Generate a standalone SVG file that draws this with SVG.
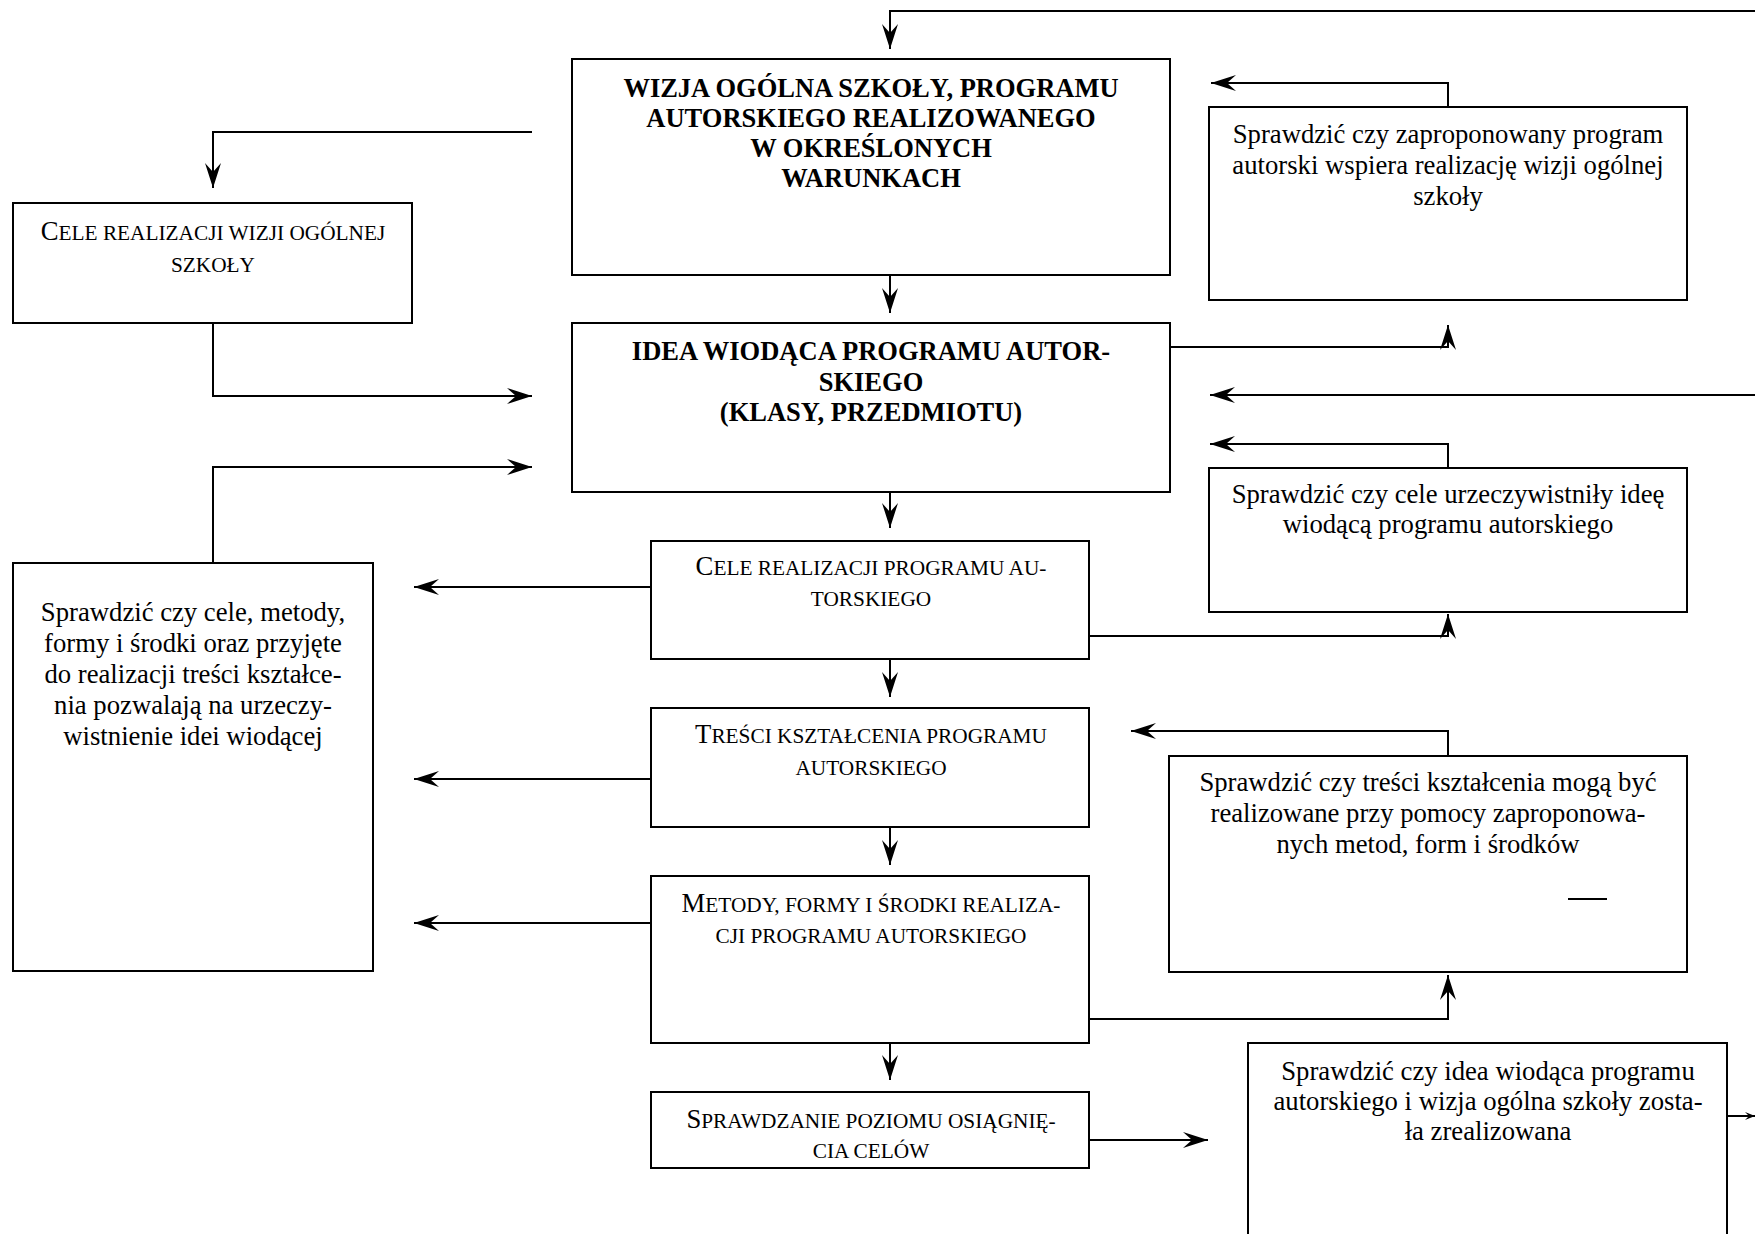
<svg xmlns="http://www.w3.org/2000/svg" width="1755" height="1234" viewBox="0 0 1755 1234">
<style>
.n rect{fill:#fff;stroke:#000;stroke-width:2}
.c path,.c line{fill:none;stroke:#000;stroke-width:2}
text{font-family:"Liberation Serif","Times New Roman",serif;fill:#000;text-anchor:middle}
.b{font-weight:bold;font-size:26.5px}
.r{font-size:26.7px}
.k{font-size:26.7px}
.s{font-size:21.3px}
</style>
<defs>
<marker id="a" markerUnits="userSpaceOnUse" markerWidth="26" markerHeight="18" viewBox="0 0 26 18" refX="25" refY="9" orient="auto">
<path d="M25,9 L0,1 L9,9 L0,17 Z" fill="#000"/>
</marker>
<marker id="as" markerUnits="userSpaceOnUse" markerWidth="12" markerHeight="10" viewBox="0 0 12 10" refX="11" refY="5" orient="auto">
<path d="M11,5 L1,1 L5,5 L1,9 Z" fill="#000"/>
</marker>
</defs>
<rect width="1755" height="1234" fill="#fff"/>

<g class="c" id="connectors">
<path d="M1755,11 H890 V49" marker-end="url(#a)"/>
<path d="M532,132 H213 V188" marker-end="url(#a)"/>
<path d="M213,323 V396 H532" marker-end="url(#a)"/>
<path d="M213,563 V467 H532" marker-end="url(#a)"/>
<path d="M890,275 V313" marker-end="url(#a)"/>
<path d="M1170,347 H1448 V325" marker-end="url(#a)"/>
<path d="M1448,107 V83 H1211" marker-end="url(#a)"/>
<path d="M1755,395 H1210" marker-end="url(#a)"/>
<path d="M1448,468 V444 H1210" marker-end="url(#a)"/>
<path d="M890,492 V528" marker-end="url(#a)"/>
<path d="M1089,636 H1448 V614" marker-end="url(#a)"/>
<path d="M651,587 H414" marker-end="url(#a)"/>
<path d="M890,659 V697" marker-end="url(#a)"/>
<path d="M651,779 H414" marker-end="url(#a)"/>
<path d="M1448,756 V731 H1131" marker-end="url(#a)"/>
<path d="M890,827 V865" marker-end="url(#a)"/>
<path d="M651,923 H414" marker-end="url(#a)"/>
<path d="M1089,1019 H1448 V975" marker-end="url(#a)"/>
<path d="M890,1043 V1080" marker-end="url(#a)"/>
<path d="M1089,1140 H1208" marker-end="url(#a)"/>
<path d="M1727,1116 H1755" marker-end="url(#as)"/>
</g>

<g class="n" id="wizja">
<rect x="572" y="59" width="598" height="216"/>
<text class="b" x="871" y="97">WIZJA OGÓLNA SZKOŁY, PROGRAMU</text>
<text class="b" x="871" y="127">AUTORSKIEGO REALIZOWANEGO</text>
<text class="b" x="871" y="157">W OKREŚLONYCH</text>
<text class="b" x="871" y="187">WARUNKACH</text>
</g>

<g class="n" id="idea">
<rect x="572" y="323" width="598" height="169"/>
<text class="b" x="871" y="360">IDEA WIODĄCA PROGRAMU AUTOR-</text>
<text class="b" x="871" y="391">SKIEGO</text>
<text class="b" x="871" y="421">(KLASY, PRZEDMIOTU)</text>
</g>

<g class="n" id="cele-wizji">
<rect x="13" y="203" width="399" height="120"/>
<text class="k" x="213" y="240">C<tspan class="s">ELE REALIZACJI WIZJI OGÓLNEJ</tspan></text>
<text class="s" x="213" y="272">SZKOŁY</text>
</g>

<g class="n" id="check-wizja">
<rect x="1209" y="107" width="478" height="193"/>
<text class="r" x="1448" y="143">Sprawdzić czy zaproponowany program</text>
<text class="r" x="1448" y="174">autorski wspiera realizację wizji ogólnej</text>
<text class="r" x="1448" y="205">szkoły</text>
</g>

<g class="n" id="check-idea">
<rect x="1209" y="468" width="478" height="144"/>
<text class="r" x="1448" y="503">Sprawdzić czy cele urzeczywistniły ideę</text>
<text class="r" x="1448" y="533">wiodącą programu autorskiego</text>
</g>

<g class="n" id="check-left">
<rect x="13" y="563" width="360" height="408"/>
<text class="r" x="193" y="621">Sprawdzić czy cele, metody,</text>
<text class="r" x="193" y="652">formy i środki oraz przyjęte</text>
<text class="r" x="193" y="683">do realizacji treści kształce-</text>
<text class="r" x="193" y="714">nia pozwalają na urzeczy-</text>
<text class="r" x="193" y="745">wistnienie idei wiodącej</text>
</g>

<g class="n" id="cele-programu">
<rect x="651" y="541" width="438" height="118"/>
<text class="k" x="871" y="575">C<tspan class="s">ELE REALIZACJI PROGRAMU AU-</tspan></text>
<text class="s" x="871" y="606">TORSKIEGO</text>
</g>

<g class="n" id="tresci">
<rect x="651" y="708" width="438" height="119"/>
<text class="k" x="871" y="743">T<tspan class="s">REŚCI KSZTAŁCENIA PROGRAMU</tspan></text>
<text class="s" x="871" y="775">AUTORSKIEGO</text>
</g>

<g class="n" id="metody">
<rect x="651" y="876" width="438" height="167"/>
<text class="k" x="871" y="912">M<tspan class="s">ETODY, FORMY I ŚRODKI REALIZA-</tspan></text>
<text class="s" x="871" y="943">CJI PROGRAMU AUTORSKIEGO</text>
</g>

<g class="n" id="sprawdzanie">
<rect x="651" y="1092" width="438" height="76"/>
<text class="k" x="871" y="1128">S<tspan class="s">PRAWDZANIE POZIOMU OSIĄGNIĘ-</tspan></text>
<text class="s" x="871" y="1158">CIA CELÓW</text>
</g>

<g class="n" id="check-tresci">
<rect x="1169" y="756" width="518" height="216"/>
<text class="r" x="1428" y="791">Sprawdzić czy treści kształcenia mogą być</text>
<text class="r" x="1428" y="822">realizowane przy pomocy zaproponowa-</text>
<text class="r" x="1428" y="853">nych metod, form i środków</text>
<line x1="1568" y1="899" x2="1607" y2="899" stroke="#000" stroke-width="2"/>
</g>

<g class="n" id="check-final">
<rect x="1248" y="1043" width="479" height="200"/>
<text class="r" x="1488" y="1080">Sprawdzić czy idea wiodąca programu</text>
<text class="r" x="1488" y="1110">autorskiego i wizja ogólna szkoły zosta-</text>
<text class="r" x="1488" y="1140">ła zrealizowana</text>
</g>
</svg>
